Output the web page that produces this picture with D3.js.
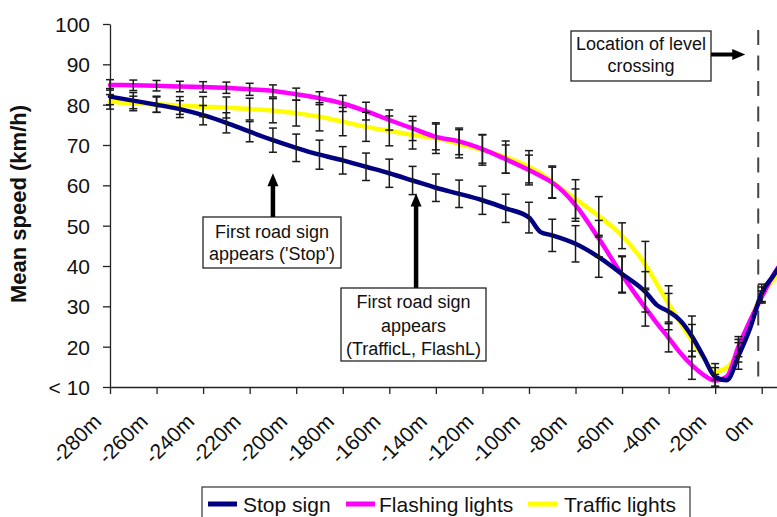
<!DOCTYPE html>
<html><head><meta charset="utf-8">
<script src="https://cdn.jsdelivr.net/npm/d3@7"></script>
<style>
html,body{margin:0;padding:0;background:#fff;}
svg{display:block;font-family:"Liberation Sans",Arial,sans-serif;}
</style></head><body>
<svg id="chart" width="777" height="517"></svg>
<script>
// ---- data ----
const lineDist = [-280,-270,-260,-250,-240,-230,-220,-210,-200,-190,-180,-170,-160,-150,-140,-130,-120,-110,-100,-95,-90,-80,-70,-60,-50,-45,-40,-35,-30,-25,-20,-15,-10,-5,0,5,10];
const stopSpeed    = [82.0,81.0,80.0,78.9,77.4,75.5,73.3,71.2,69.3,67.6,66.2,64.6,63.0,61.2,59.4,57.9,56.3,54.3,52.0,48.4,47.6,45.5,42.2,38.0,33.6,30.3,28.7,26.5,22.6,17.5,12.5,11.7,17.7,24.6,33.3,37.6,42.0];
const flashSpeed   = [84.9,84.8,84.7,84.5,84.4,84.2,83.8,83.4,82.6,81.6,80.3,78.4,76.2,74.1,72.0,70.9,69.0,66.5,63.8,62.3,60.7,55.1,46.8,37.8,29.6,25.8,22.2,18.5,15.4,13.0,11.6,12.6,20.0,26.5,32.3,37.8,42.0];
const trafficSpeed = [80.7,80.3,80.1,79.8,79.5,79.3,78.9,78.5,77.9,77.0,75.8,74.5,73.5,72.5,71.7,70.3,68.8,67.0,64.6,63.0,60.8,56.6,52.4,47.5,40.3,35.5,30.6,26.0,21.5,17.3,13.8,14.8,19.0,26.2,33.0,36.5,40.0];

const barDist    = [-280,-270,-260,-250,-240,-230,-220,-210,-200,-190,-180,-170,-160,-150,-140,-130,-120,-110,-100,-90,-80,-70,-60,-50,-40,-30,-20,-10,0];
const stopErr    = [2.0,2.0,1.9,2.1,2.4,2.5,2.5,3.0,3.4,3.6,3.4,3.4,3.5,3.5,3.4,3.4,3.5,3.5,3.8,4.0,4.5,5.0,4.5,5.0,4.5,5.0,2.3,3.3,2.2];
const flashErr   = [1.3,1.3,1.3,1.3,1.3,1.4,1.5,1.5,1.5,1.6,2.0,2.2,2.5,3.0,3.2,3.3,3.5,3.5,3.7,3.8,4.0,4.5,4.5,4.5,3.5,3.5,1.5,2.5,1.5];
const trafficErr = [1.8,1.8,2.0,2.2,2.5,2.6,2.7,3.0,3.2,3.5,3.5,3.6,3.7,3.5,3.8,3.5,3.8,4.0,4.0,4.0,4.8,4.8,3.2,5.8,4.5,4.0,2.0,2.8,1.8];

const xTickValues = [-280,-260,-240,-220,-200,-180,-160,-140,-120,-100,-80,-60,-40,-20,0];
const yTickValues = [10,20,30,40,50,60,70,80,90,100];
const seriesNames  = ["Stop sign","Flashing lights","Traffic lights"];
const seriesColors = ["#000080","#FF00FF","#FFFF00"];
const yAxisTitle = "Mean speed (km/h)";

const levelCrossingAt = -1.5;      // m
const signStopAt = -210, signStopTip = 63;      // m, km/h
const signLightsAt = -148.5, signLightsTip = 58;

// ---- scales ----
const svg = d3.select("#chart");
const x = d3.scaleLinear().domain([-280, 10]).range([110, 785]);
const y = d3.scaleLinear().domain([10, 100]).range([387, 24]);

const series = [
  {name: seriesNames[0], color: seriesColors[0], vals: stopSpeed,    err: stopErr},
  {name: seriesNames[1], color: seriesColors[1], vals: flashSpeed,   err: flashErr},
  {name: seriesNames[2], color: seriesColors[2], vals: trafficSpeed, err: trafficErr}
];

// ---- axes ----
const yAxis = d3.axisLeft(y).tickValues(yTickValues).tickSize(7).tickSizeOuter(0).tickPadding(13)
  .tickFormat(v => v === 10 ? "< 10" : String(v));
const gy = svg.append("g").attr("transform", `translate(${x(-280)},0)`).call(yAxis);
gy.selectAll("text").attr("font-size", 21).attr("dy", "0.36em").attr("fill", "#111")
  .attr("font-family", "Liberation Sans, Arial, sans-serif");
gy.selectAll("path,line").attr("stroke", "#222").attr("stroke-width", 1.3);

const xAxis = d3.axisBottom(x).tickValues(xTickValues).tickSize(7).tickSizeOuter(0)
  .tickFormat(d => d + "m");
const gx = svg.append("g").attr("transform", `translate(0,${y(10)})`).call(xAxis);
gx.selectAll("text").attr("font-size", 21).attr("fill", "#111")
  .attr("font-family", "Liberation Sans, Arial, sans-serif")
  .attr("text-anchor", "end").attr("x", null).attr("y", null).attr("dy", null)
  .attr("transform", "translate(-8,36) rotate(-45)");
gx.selectAll("path,line").attr("stroke", "#222").attr("stroke-width", 1.3);

svg.append("text").attr("transform", "translate(26,204) rotate(-90)")
  .attr("text-anchor", "middle").attr("font-size", 22).attr("font-weight", "bold")
  .attr("fill", "#111").text(yAxisTitle);

// ---- level crossing line ----
svg.append("line").attr("x1", x(levelCrossingAt)).attr("x2", x(levelCrossingAt))
  .attr("y1", 30).attr("y2", y(10)).attr("stroke", "#444").attr("stroke-width", 2)
  .attr("stroke-dasharray", "15,10.5");

// ---- lines ----
const line = d3.line().x((d, i) => x(lineDist[i])).y(d => y(d)).curve(d3.curveMonotoneX);
const drawOrder = [2, 1, 0];
drawOrder.forEach(k => {
  svg.append("path").datum(series[k].vals).attr("d", line).attr("fill", "none")
    .attr("stroke", series[k].color).attr("stroke-width", 4.5)
    .attr("stroke-linejoin", "round").attr("stroke-linecap", "round");
});

// ---- error bars ----
const gErr = svg.append("g").attr("stroke", "#1a1a1a").attr("stroke-width", 1.5);
series.forEach(s => {
  barDist.forEach((d, i) => {
    const v = s.vals[lineDist.indexOf(d)];
    const e = s.err[i];
    const cx = x(d), y1 = y(v - e), y2 = y(v + e);
    gErr.append("line").attr("x1", cx).attr("x2", cx).attr("y1", y1).attr("y2", y2);
    gErr.append("line").attr("x1", cx - 4).attr("x2", cx + 4).attr("y1", y1).attr("y2", y1);
    gErr.append("line").attr("x1", cx - 4).attr("x2", cx + 4).attr("y1", y2).attr("y2", y2);
  });
});

// ---- annotations ----
function vArrow(ax, yBase, yTip) {
  svg.append("line").attr("x1", ax).attr("x2", ax).attr("y1", yBase).attr("y2", yTip + 11)
    .attr("stroke", "#000").attr("stroke-width", 4.5);
  svg.append("path").attr("d", `M${ax},${yTip} L${ax-5.5},${yTip+13} L${ax+5.5},${yTip+13} Z`).attr("fill", "#000");
}
function box(bx, by, bw, bh, lines, baselines) {
  svg.append("rect").attr("x", bx).attr("y", by).attr("width", bw).attr("height", bh)
    .attr("fill", "#fff").attr("stroke", "#111").attr("stroke-width", 1.2);
  lines.forEach((t, i) => svg.append("text").attr("x", bx + bw / 2).attr("y", baselines[i])
    .attr("text-anchor", "middle").attr("font-size", 18).attr("fill", "#111").text(t));
}
vArrow(x(signStopAt), 217, y(signStopTip));
box(203, 217, 138, 51, ["First road sign", "appears ('Stop')"], [238, 260]);
vArrow(x(signLightsAt), 288, y(signLightsTip));
box(341, 288, 145, 73, ["First road sign", "appears", "(TrafficL, FlashL)"], [308, 331.5, 354.5]);

// crossing label + horizontal arrow
svg.append("line").attr("x1", 711).attr("x2", 735).attr("y1", 54.5).attr("y2", 54.5)
  .attr("stroke", "#000").attr("stroke-width", 4);
svg.append("path").attr("d", `M${x(levelCrossingAt)-13},54.5 L${x(levelCrossingAt)-26},49 L${x(levelCrossingAt)-26},60 Z`).attr("fill", "#000");
box(571, 31, 140, 50, ["Location of level", "crossing"], [50, 72]);

// ---- legend ----
const lg = svg.append("g");
lg.append("rect").attr("x", 202).attr("y", 487).attr("width", 488).attr("height", 40)
  .attr("fill", "#fff").attr("stroke", "#333").attr("stroke-width", 1.2);
const legendPos = [{sx: 208, tx: 243}, {sx: 346, tx: 379}, {sx: 528, tx: 564}];
series.forEach((s, i) => {
  lg.append("line").attr("x1", legendPos[i].sx).attr("x2", legendPos[i].sx + 29)
    .attr("y1", 504).attr("y2", 504).attr("stroke", s.color).attr("stroke-width", 5);
  lg.append("text").attr("x", legendPos[i].tx).attr("y", 512).attr("font-size", 21)
    .attr("fill", "#111").text(s.name);
});
</script>
</body></html>
